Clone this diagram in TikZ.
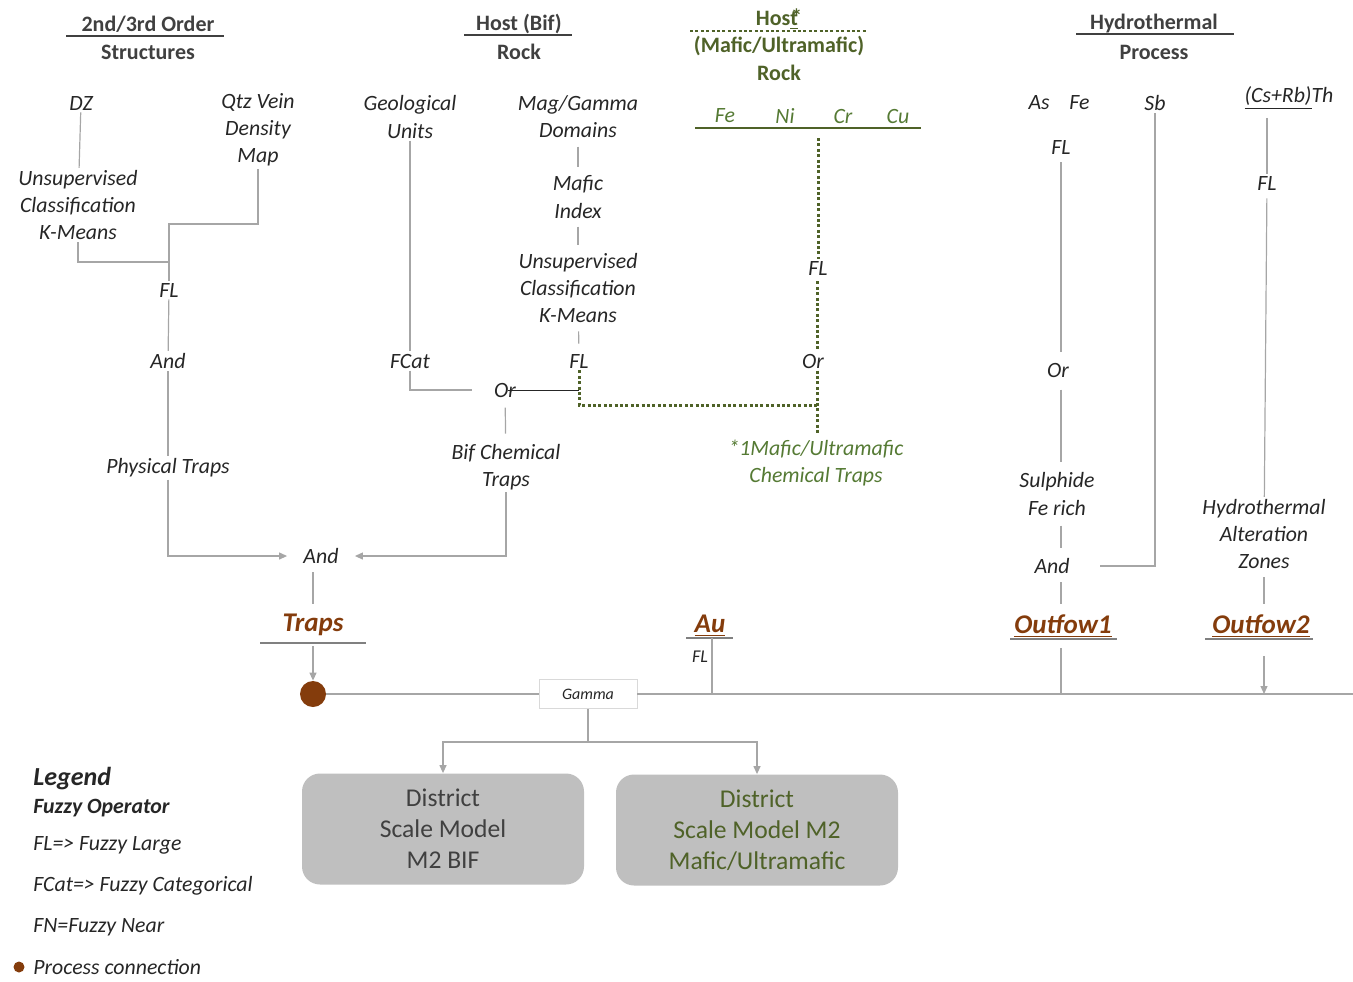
\documentclass[tikz,border=0pt]{standalone}
\usepackage{fontspec}
\setmainfont{Carlito}
\usepackage{xcolor}
\usetikzlibrary{positioning,arrows.meta,calc}
\definecolor{Ink}{HTML}{262626}
\definecolor{HeadInk}{HTML}{404040}
\definecolor{LinkGray}{HTML}{A6A6A6}
\definecolor{BarGray}{HTML}{808080}
\definecolor{HostGreen}{HTML}{4F6228}
\definecolor{LabelGreen}{HTML}{557A34}
\definecolor{TrapBrown}{HTML}{843C0C}
\definecolor{BoxGray}{HTML}{BFBFBF}
\definecolor{GammaEdge}{HTML}{D9D9D9}
\newcommand{\bodysize}{\fontsize{10.9}{13.6}\selectfont}
\newcommand{\headrule}[3]{\draw[rule] (#1,#3) -- (#2,#3);}
\tikzset{
  lbl/.style={font=\itshape\bodysize,text=Ink,align=center,inner sep=1pt},
  greenlbl/.style={lbl,text=LabelGreen},
  head/.style={font=\bfseries\fontsize{11}{14}\selectfont,text=HeadInk,align=center,inner sep=0pt},
  greenhead/.style={head,text=HostGreen},
  rule/.style={draw=HeadInk,line width=0.9pt},
  link/.style={draw=LinkGray,line width=0.6pt},
  arr/.style={link,-{Triangle[length=4pt,width=3.5pt]}},
  greendot/.style={draw=HostGreen,line width=1.5pt,dash pattern=on 1.5pt off 1.2pt},
  target/.style={font=\bfseries\itshape\fontsize{13.5}{16}\selectfont,text=TrapBrown,inner sep=1pt},
  bar/.style={draw=BarGray,line width=1.4pt},
  procdot/.style={circle,fill=TrapBrown,minimum size=13pt,inner sep=0pt},
  gammabox/.style={draw=GammaEdge,fill=white,minimum width=49pt,minimum height=14.5pt,inner sep=0pt,font=\itshape\fontsize{8}{10}\selectfont,text=Ink},
  model/.style={rounded corners=9pt,fill=BoxGray,minimum width=141pt,minimum height=55.5pt,align=center,font=\fontsize{12.8}{15.5}\selectfont,text=HeadInk},
  legitem/.style={anchor=west,font=\itshape\bodysize,text=Ink,inner sep=0pt}
}
\begin{document}
\begin{tikzpicture}[x=0.5pt,y=-0.5pt]
  \useasboundingbox (0,0) rectangle (1353,981);
  % headings
  \node[head] (hstruct) at (148,24) {2nd/3rd Order};
  \node[head] (hstruct2) at (148,52) {Structures};
  \headrule{66}{224}{36}
  \node[head] (hbif) at (519,24) {Host (Bif)};
  \node[head] (hbif2) at (519,52) {Rock};
  \headrule{464}{572}{35}
  \node[greenhead] (hmaf) at (779,19) {Hos\underline{t}\kern-0.32em\raisebox{0.1ex}{*}};
  \node[greenhead] (hmaf2) at (779,46) {(Mafic/Ultramafic)};
  \node[greenhead] (hmaf3) at (779,73) {Rock};
  \draw[greendot,line width=1.2pt] (690,31) -- (868,31);
  \node[head] (hhyd) at (1154,24) {Hydrothermal};
  \node[head] (hhyd2) at (1154,52) {Process};
  \headrule{1076}{1234}{34}

  % structures
  \node[lbl] (dz) at (81,103) {DZ};
  \node[lbl] (ucl1) at (78,205) {Unsupervised\\Classification\\K-Means};
  \node[lbl] (qtz) at (258,130) {Qtz Vein\\Density\\Map};
  \node[lbl] (fl1) at (169,290) {FL};
  \node[lbl] (and1) at (168,361) {And};
  \node[lbl] (phys) at (168,468) {Physical Traps};
  \coordinate (j1) at (169,262);
  \coordinate (j2) at (169,224);
  \draw[link] (dz) -- (ucl1);
  \draw[link] (ucl1.south) |- (j1);
  \draw[link] (qtz.south) |- (j2) -- (fl1);
  \draw[link] (fl1) -- (and1);
  \draw[link] (and1) -- (phys);

  % host bif
  \node[lbl] (geo) at (410,117) {Geological\\Units};
  \node[lbl] (fcat) at (410,361) {FCat};
  \node[lbl] (mag) at (578,117) {Mag/Gamma\\Domains};
  \node[lbl] (mafic) at (578,197) {Mafic\\Index};
  \node[lbl] (ucl2) at (578,288) {Unsupervised\\Classification\\K-Means};
  \node[lbl] (fl2) at (579,361) {FL};
  \node[lbl] (orbif) at (505,390) {Or};
  \node[lbl] (bif) at (506,467) {Bif Chemical\\Traps};
  \draw[link] (geo) -- (fcat);
  \draw[link,shorten >=10pt] (fcat.south) |- (orbif.west);
  \draw[link,shorten <=3pt,shorten >=3pt] (mag) -- (mafic);
  \draw[link,shorten <=3pt,shorten >=3pt] (mafic) -- (ucl2);
  \draw[link,shorten <=3pt,shorten >=4pt] (ucl2) -- (fl2);
  \draw[draw=Ink,line width=0.5pt,shorten <=-5pt] (orbif.east) -- (orbif.east -| fl2);
  \draw[link,shorten <=4pt,shorten >=4pt] (orbif) -- (bif);

  % host mafic / ultramafic
  \node[greenlbl] (fe) at (725,116) {Fe};
  \node[greenlbl] (ni) at (785,116) {Ni};
  \node[greenlbl] (cr) at (843,116) {Cr};
  \node[greenlbl] (cu) at (898,116) {Cu};
  \draw[draw=HostGreen,line width=1.2pt] (695,128) -- (921,128);
  \coordinate (elbar) at (818,138);
  \node[lbl] (flg) at (818,268) {FL};
  \node[lbl] (org) at (813,361) {Or};
  \node[greenlbl] (mafct) at (816,463) {*1Mafic/Ultramafic\\Chemical Traps};
  \coordinate (gjoin) at (817,405);
  \draw[greendot] (elbar) -- (flg);
  \draw[greendot,shorten <=2pt] (flg.south -| gjoin) -- (org.north -| gjoin);
  \draw[greendot,shorten >=2pt] (org.south -| gjoin) -- (mafct.north -| gjoin);
  \draw[greendot] (fl2.south) |- (gjoin);

  % hydrothermal
  \node[lbl] (asfe) at (1059,103) {As\hspace{0.9em}Fe};
  \node[lbl] (sb) at (1155,103) {Sb};
  \node[lbl] (csrb) at (1289,98) {\underline{(Cs+Rb)}Th};
  \node[lbl] (fl4) at (1061,147) {FL};
  \node[lbl] (or4) at (1058,370) {Or};
  \node[lbl] (sulph) at (1057,494) {Sulphide\\Fe rich};
  \node[lbl] (and4) at (1052,566) {And};
  \node[lbl] (fl5) at (1267,183) {FL};
  \node[lbl] (hyd) at (1264,534) {Hydrothermal\\Alteration\\Zones};
  \draw[link,shorten <=3pt,shorten >=4pt] (fl4) -- (fl4 |- or4.north);
  \draw[link,shorten <=5pt,shorten >=4pt] (or4.south -| fl4) -- (sulph.north -| fl4);
  \draw[link,shorten <=4pt,shorten >=4pt] (sulph.south -| fl4) -- (and4.north -| fl4);
  \draw[link,shorten >=14pt] (sb.south) |- (and4.east);
  \draw[link,shorten <=3pt] (csrb.south -| fl5) -- (fl5);
  \draw[link,shorten <=3pt] (fl5) -- (hyd);

  % targets
  \node[lbl] (and2) at (321,556) {And};
  \node[target] (traps) at (313,625) {Traps};
  \node[target] (au) at (710,626) {\underline{Au}};
  \node[target] (outf1) at (1063,626) {\underline{Outfow1}};
  \node[target] (outf2) at (1261,626) {\underline{Outfow2}};
  \draw[bar] (260,643) -- (366,643);
  \draw[bar] (686,638) -- (733,638);
  \draw[bar] (1010,639) -- (1117,639);
  \draw[bar] (1205,639) -- (1313,639);
  \draw[arr,shorten >=7pt] (phys.south) |- (and2.west);
  \draw[arr,shorten >=7pt] (bif.south) |- (and2.east);
  \draw[link,shorten <=3pt,shorten >=4pt] (and2.south -| traps) -- (traps);
  \draw[link,shorten <=3pt,shorten >=4pt] (and4.south -| fl4) -- (outf1.north -| fl4);
  \draw[link,shorten <=3pt,shorten >=4pt] (hyd) -- (outf2.north -| hyd);

  % gamma combination
  \node[procdot] (proc) at (313,694) {};
  \node[gammabox] (gamma) at (588,694) {Gamma};
  \coordinate (rimend) at (1353,694);
  \coordinate (split) at (588,742);
  \draw[arr] (traps.south |- 0,646) -- (proc.north);
  \draw[link] (proc) -- (gamma);
  \draw[link] (gamma.east) -- (rimend);
  \draw[link] (712,638) -- (712,694);
  \node[lbl,font=\itshape\fontsize{9}{11}\selectfont] (aufl) at (700,657) {FL};
  \draw[link] (outf1.south -| fl4) ++(0,8) -- (fl4 |- rimend);
  \draw[arr,shorten <=8pt] (outf2.south -| hyd) -- (hyd |- rimend);

  % models
  \node[model] (m2bif) at (443,829) {District\\Scale Model\\M2 BIF};
  \node[model,text=HostGreen] (m2maf) at (757,830) {District\\Scale Model M2\\Mafic/Ultramafic};
  \draw[link] (gamma.south) -- (split);
  \draw[arr] (split) -| (m2bif.north);
  \draw[arr] (split) -| (m2maf.north);

  % legend
  \node[legitem,font=\bfseries\itshape\fontsize{13}{15}\selectfont] (leg) at (33,779) {Legend};
  \node[legitem,font=\bfseries\itshape\bodysize] (legop) at (33,808) {Fuzzy Operator};
  \node[legitem] (legfl) at (33,845) {FL=> Fuzzy Large};
  \node[legitem] (legfcat) at (33,886) {FCat=> Fuzzy Categorical};
  \node[legitem] (legfn) at (33,927) {FN=Fuzzy Near};
  \node[legitem] (legpc) at (33,967) {Process connection};
  \node[procdot,minimum size=5.5pt] (legdot) at (19,967) {};
\end{tikzpicture}
\end{document}
